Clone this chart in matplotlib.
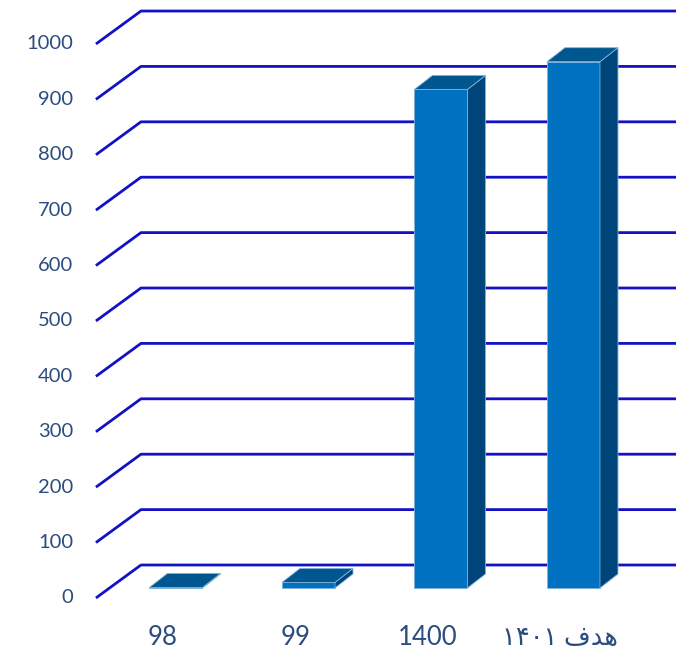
import matplotlib
matplotlib.use("Agg")
import matplotlib.pyplot as plt
from matplotlib.patches import Polygon

# data
categories = ['98', '99', '1400', '\u06F1\u06F4\u06F0\u06F1 \uFED1\uFEAA\uFEEB']  # "هدف ۱۴۰۱" in visual order
values = [1, 10, 900, 950]
tick_values = [0, 100, 200, 300, 400, 500, 600, 700, 800, 900, 1000]

# colours
FRONT = '#0070C0'
TOP = '#00568F'
SIDE = '#00457A'
EDGE = '#7FB2DA'
GRID = '#1212C4'
TEXT = '#2B4C7E'

# pseudo-3d geometry, in data units (x: category index, y: value)
BAR_W = 0.40
DEPTH_X = 0.136      # bar depth offset
DEPTH_Y = 25.3
WALL_FRONT_X = -0.604
WALL_FRONT_Y = -18.0
WALL_BACK_X = -0.264
WALL_BACK_Y = 41.5

fig = plt.figure(figsize=(6.76, 6.64), dpi=100)
ax = fig.add_axes([0, 0, 1, 1])
ax.set_xlim(-1.328, 3.774)
ax.set_ylim(-137.2, 1061.4)
ax.axis('off')

# gridlines: diagonal on the side wall + horizontal on the back wall
x_right = ax.get_xlim()[1]
for v in tick_values:
    ax.plot([WALL_FRONT_X, WALL_BACK_X, x_right],
            [v + WALL_FRONT_Y, v + WALL_BACK_Y, v + WALL_BACK_Y],
            color=GRID, lw=2.0, solid_capstyle='butt', zorder=1)
    ax.text(WALL_FRONT_X - 0.17, v + WALL_FRONT_Y, str(v), ha='right', va='center',
            fontsize=14.5, color=TEXT, family=['Lato', 'DejaVu Sans'])

# bars: front face, side face, top face
xs = list(range(len(categories)))
ax.bar(xs, values, width=BAR_W, color=FRONT, edgecolor=EDGE, linewidth=0.6, zorder=3)
for x, v in zip(xs, values):
    l, r = x - BAR_W / 2, x + BAR_W / 2
    side = [(r, 0), (r, v), (r + DEPTH_X, v + DEPTH_Y), (r + DEPTH_X, DEPTH_Y)]
    top = [(l, v), (r, v), (r + DEPTH_X, v + DEPTH_Y), (l + DEPTH_X, v + DEPTH_Y)]
    ax.add_patch(Polygon(side, closed=True, fc=SIDE, ec=EDGE, lw=0.6, zorder=3))
    ax.add_patch(Polygon(top, closed=True, fc=TOP, ec=EDGE, lw=0.6, zorder=4))

# category labels
for x, lab in zip(xs, categories):
    ax.text(x - 0.1, -90, lab, ha='center', va='center', fontsize=18.5,
            color=TEXT, family=['Lato', 'DejaVu Sans'])

fig.savefig('out.png', dpi=100, facecolor='white')
